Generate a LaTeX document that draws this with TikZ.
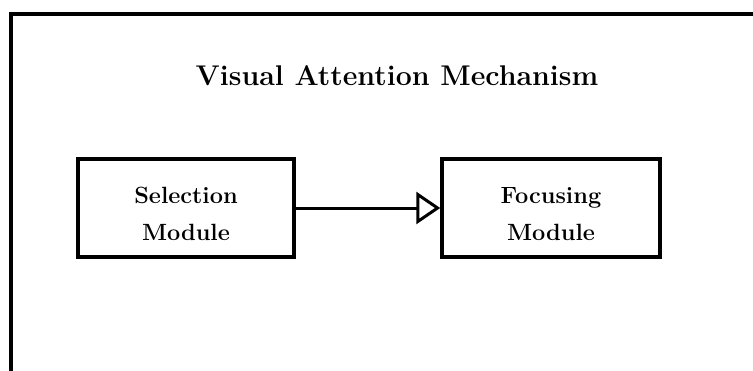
\documentclass[tikz,border=0pt]{standalone}
\usetikzlibrary{arrows.meta}
\begin{document}
\begin{tikzpicture}[x=1pt,y=-1pt,
  modbox/.style={draw, line width=3.5pt, minimum width=216pt, minimum height=98pt, inner sep=0pt},
  modlabel/.style={inner sep=0pt, align=center, font=\fontsize{23.5}{37}\selectfont\bfseries},
  titletext/.style={font=\fontsize{28.5}{32}\selectfont\bfseries, inner sep=0pt},
  frameline/.style={line width=3.5pt},
  flow/.style={line width=3pt, -{Triangle[open, length=24pt, width=32pt, line width=3pt]}}]
\useasboundingbox (0,0) rectangle (753,370);
\coordinate (fbot) at (11,380);
\coordinate (fcorner) at (11,14);
\coordinate (fright) at (760,14);
\draw[frameline] (fbot) -- (fcorner) -- (fright);
\node[titletext, anchor=base] (title) at (397,85) {Visual Attention Mechanism};
\node[modbox] (sel) at (186,208) {};
\node[modbox, minimum width=218pt] (foc) at (551,208) {};
\node[modlabel] (seltext) at ([yshift=-6pt]sel.center) {Selection\\Module};
\node[modlabel] (foctext) at ([yshift=-6pt]foc.center) {Focusing\\Module};
\draw[flow] (sel) -- (foc);
\end{tikzpicture}
\end{document}
